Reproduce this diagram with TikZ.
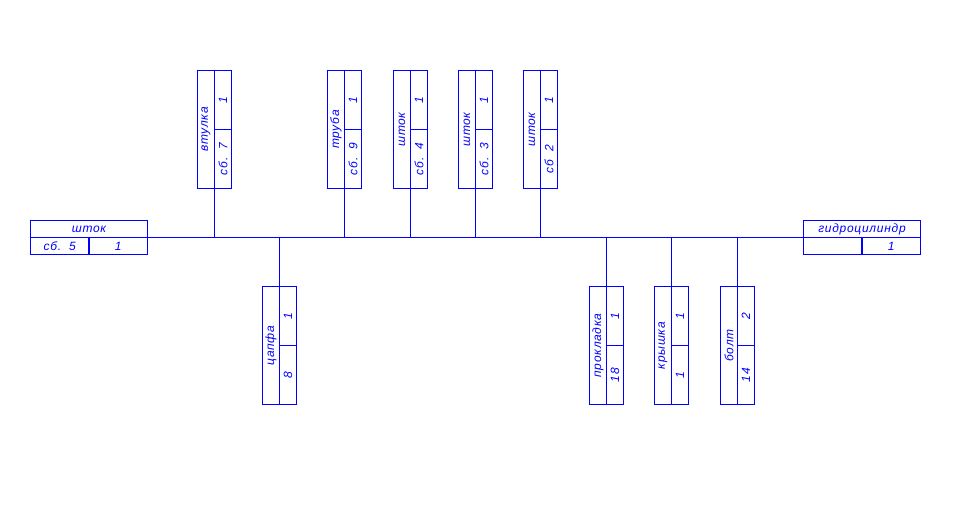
\documentclass[tikz,border=0pt]{standalone}
\usepackage{fontspec}
\setmainfont{Liberation Sans}
\newfontfamily\gostfont[LetterSpace=6]{Liberation Sans Italic}
\usetikzlibrary{calc}
\definecolor{lineblue}{rgb}{0,0,1}
\begin{document}
\begin{tikzpicture}[x=1pt,y=-1pt,line width=1pt,
  vbox/.style={draw=lineblue,minimum width=34pt,minimum height=118pt,inner sep=0pt,outer sep=0pt,anchor=north west},
  hbox/.style={draw=lineblue,minimum width=117pt,minimum height=34pt,inner sep=0pt,outer sep=0pt,anchor=north west},
  lbl/.style={text=lineblue,inner sep=0pt,font=\gostfont\fontsize{12}{14}\selectfont},
  vlbl/.style={lbl,rotate=90},
  wire/.style={draw=lineblue,line width=1.15pt}]
\fill[white] (0,0) rectangle (973,514);
\useasboundingbox (0,0) rectangle (973,514);
\begin{scope}[shift={(0.5,0.5)}]
\coordinate (t) at (0,237);
% end boxes
\node[hbox] (L) at (30,220) {};
\node[hbox] (R) at (803,220) {};
\foreach \nm in {L,R}{
  \draw[wire] (\nm.west) -- (\nm.east);
  \draw[wire] (\nm.center) -- (\nm.south);
}
% trunk
\draw[wire] (L.east) -- (R.west);
% upper boxes
\foreach \nm/\x in {u1/197, u2/327, u3/393, u4/458, u5/523}{
  \node[vbox] (\nm) at (\x,70) {};
  \draw[wire] (\nm.north) -- (\nm.south);
  \draw[wire] (\nm.center) -- (\nm.east);
  \draw[wire] (\nm.south) -- (\nm.south |- t);
}
% lower boxes
\foreach \nm/\x in {d1/262, d2/589, d3/654, d4/720}{
  \node[vbox] (\nm) at (\x,286) {};
  \draw[wire] (\nm.north) -- (\nm.south);
  \draw[wire] (\nm.center) -- (\nm.east);
  \draw[wire] (\nm.north) -- (\nm.north |- t);
}
% labels
\node[lbl] (Lt) at ($(L.north)!0.5!(L.center)$) {шток};
\node[lbl] (Lb) at ($(L.west)!0.5!(L.south)$) {сб.\ \ 5};
\node[lbl] (Lc) at ($(L.center)!0.5!(L.south east)$) {1};
\node[lbl] (Rt) at ($(R.north)!0.5!(R.center)$) {гидроцилиндр};
\node[lbl] (Rc) at ($(R.center)!0.5!(R.south east)$) {1};
\foreach \nm/\lab/\qa/\qb in {u1/втулка/1/сб.\ \ 7, u2/труба/1/сб.\ \ 9, u3/шток/1/сб.\ \ 4, u4/шток/1/сб.\ \ 3, u5/шток/1/сб\ \ 2, d1/цапфа/1/8, d2/прокладка/1/18, d3/крышка/1/1, d4/болт/2/14}{
  \node[vlbl] (\nm-n) at ($(\nm.west)!0.5!(\nm.center)$) {\lab};
  \node[vlbl] (\nm-a) at ($(\nm.center)!0.5!(\nm.north east)$) {\qa};
  \node[vlbl] (\nm-b) at ($(\nm.center)!0.5!(\nm.south east)$) {\qb};
}
\end{scope}
\end{tikzpicture}
\end{document}
